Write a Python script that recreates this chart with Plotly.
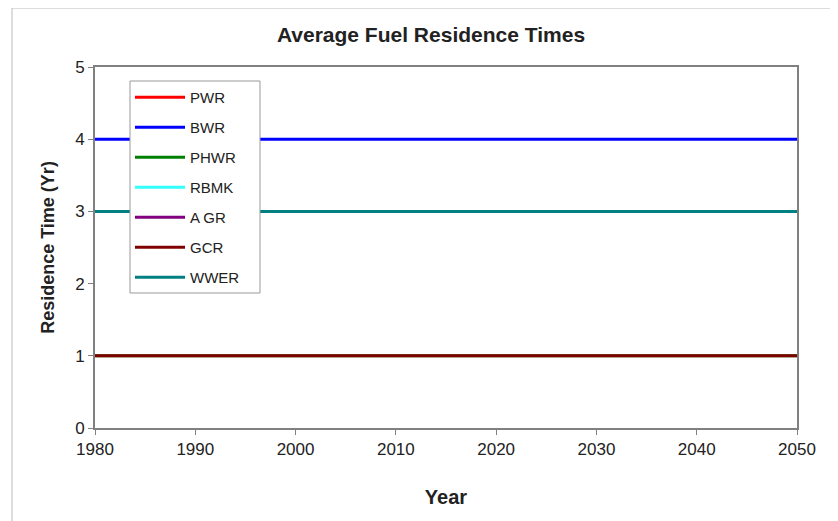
import plotly.graph_objects as go

years = [1980, 2050]
series_names = ["PWR", "BWR", "PHWR", "RBMK", "AGR", "GCR", "WWER"]
series_values = {
    "PWR": [3, 3],
    "BWR": [4, 4],
    "PHWR": [1, 1],
    "RBMK": [3, 3],
    "AGR": [3, 3],
    "GCR": [1, 1],
    "WWER": [3, 3],
}
colors = {
    "PWR": "#FF0000",
    "BWR": "#0000FF",
    "PHWR": "#008000",
    "RBMK": "#33FFFF",
    "AGR": "#800080",
    "GCR": "#800000",
    "WWER": "#008080",
}
legend_labels = {"AGR": "A GR"}

fig = go.Figure()
for i, name in enumerate(series_names):
    fig.add_trace(go.Scatter(
        x=years, y=series_values[name], mode="lines",
        name=legend_labels.get(name, name),
        line=dict(color=colors[name], width=3),
        legendgroup=f"g{i}",
    ))

OFF = 8  # page offset of the figure in the browser
W, H = 838, 521
L, T = 95 - OFF, 67 - OFF
R, B = W - (797 - OFF), H - (428 - OFF)
pw, ph = W - L - R, H - T - B

def px_x(x):
    return (x - 95) / pw

def px_y(y):
    return 1 - (y - 67) / ph

fig.update_layout(
    width=W, height=H,
    margin=dict(l=L, r=R, t=T, b=B),
    paper_bgcolor="white", plot_bgcolor="white",
    font=dict(family="Arial, Liberation Sans, sans-serif", color="#222"),
    title=dict(text="<b>Average Fuel Residence Times</b>", x=(431 - OFF) / W, xanchor="center",
               y=1 - (35 - OFF) / H, yanchor="middle", font=dict(size=21, color="#222")),
    showlegend=True,
    legend=dict(x=px_x(130), y=px_y(81), xanchor="left", yanchor="top",
                bgcolor="rgba(0,0,0,0)", borderwidth=0,
                font=dict(size=15, color="#222"), traceorder="grouped",
                tracegroupgap=7.5, itemwidth=50),
    xaxis=dict(range=[1980, 2050], tickvals=[1980, 1990, 2000, 2010, 2020, 2030, 2040, 2050],
               showgrid=False, zeroline=False, showline=True, linecolor="#808080", linewidth=2,
               mirror=True, ticks="outside", ticklen=5, tickcolor="#808080",
               tickfont=dict(size=17, color="#222"),
               title=dict(text="<b>Year</b>", font=dict(size=20, color="#222"), standoff=32)),
    yaxis=dict(range=[0, 5], tickvals=[0, 1, 2, 3, 4, 5],
               showgrid=False, zeroline=False, showline=True, linecolor="#808080", linewidth=2,
               mirror=True, ticks="outside", ticklen=5, tickcolor="#808080",
               tickfont=dict(size=17, color="#222"),
               title=dict(text="<b>Residence Time (Yr)</b>", font=dict(size=18, color="#222"), standoff=16)),
)

# legend frame (white box covering the lines behind the legend)
fig.add_shape(type="rect", xref="paper", yref="paper", layer="above",
              x0=px_x(130), x1=px_x(260), y0=px_y(293), y1=px_y(81),
              fillcolor="white", line=dict(color="#999", width=1))

# outer chart border (left and top edges visible)
fig.add_shape(type="line", xref="paper", yref="paper",
              x0=px_x(12), x1=px_x(W + 20), y0=px_y(8), y1=px_y(8),
              line=dict(color="#bbb", width=1))
fig.add_shape(type="line", xref="paper", yref="paper",
              x0=px_x(12), x1=px_x(12), y0=px_y(8), y1=px_y(H + 20),
              line=dict(color="#bbb", width=1))

fig.write_html("out.html")
